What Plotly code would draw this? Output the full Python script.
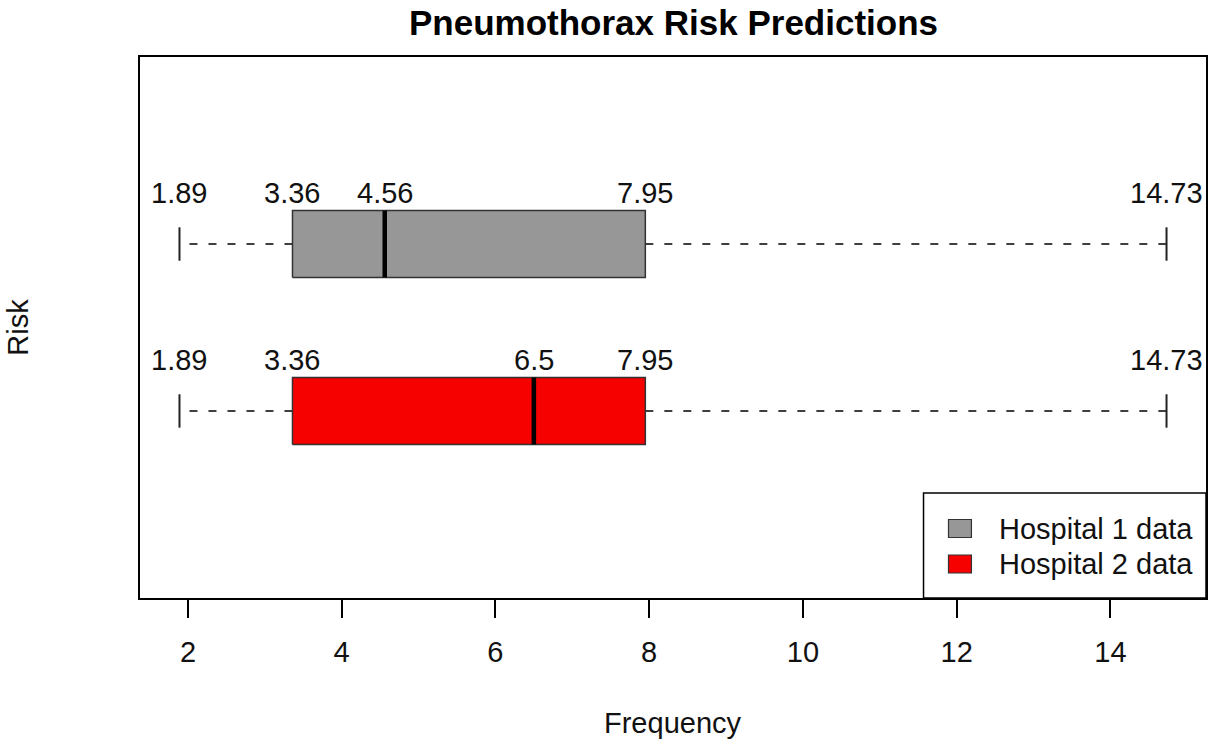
import plotly.graph_objects as go

# ---- data ----
groups = ["Hospital 1 data", "Hospital 2 data"]
mins = [1.89, 1.89]
q1s = [3.36, 3.36]
medians = [4.56, 6.5]
q3s = [7.95, 7.95]
maxs = [14.73, 14.73]
fill_colors = ["#979797", "#F60000"]
x_ticks = [2, 4, 6, 8, 10, 12, 14]

FONT = "Liberation Sans, Arial, Helvetica, sans-serif"
W, H = 1212, 744
ML, MR, MT, MB = 140, 4, 57, 146
PW, PH = W - ML - MR, H - MT - MB

def px_x(p):
    return (p - ML) / PW

def px_y(p):
    return (H - MB - p) / PH

half = 0.2     # half box height (data units)
cap = 0.1      # half staple height

fig = go.Figure()
annotations = []
n = len(groups)
for i, g in enumerate(groups):
    pos = n - i
    # whiskers (dashed) from box edge to extremes
    for a, b in ((q1s[i], mins[i]), (q3s[i], maxs[i])):
        fig.add_trace(go.Scatter(x=[a, b], y=[pos, pos], mode="lines",
                                 line=dict(color="black", width=1.4, dash="8px,11px"),
                                 showlegend=False, hoverinfo="skip"))
    # staples
    for v in (mins[i], maxs[i]):
        fig.add_trace(go.Scatter(x=[v, v], y=[pos - cap, pos + cap], mode="lines",
                                 line=dict(color="#222", width=2),
                                 showlegend=False, hoverinfo="skip"))
    # box
    fig.add_trace(go.Scatter(x=[q1s[i], q3s[i], q3s[i], q1s[i], q1s[i]],
                             y=[pos - half, pos - half, pos + half, pos + half, pos - half],
                             mode="lines", fill="toself", fillcolor=fill_colors[i],
                             line=dict(color="#333", width=1.5),
                             name=g, showlegend=False, hoverinfo="skip"))
    # median
    fig.add_trace(go.Scatter(x=[medians[i], medians[i]], y=[pos - half, pos + half], mode="lines",
                             line=dict(color="black", width=4.5),
                             showlegend=False, hoverinfo="skip"))
    # value labels
    for v in (mins[i], q1s[i], medians[i], q3s[i], maxs[i]):
        annotations.append(dict(x=v, y=pos + half, xref="x", yref="y", text=str(v),
                                showarrow=False, xanchor="center", yanchor="bottom",
                                yshift=0, font=dict(family=FONT, size=29, color="#111")))

# title
annotations.append(dict(x=0.5, y=px_y(22), xref="paper", yref="paper",
                        text="<b>Pneumothorax Risk Predictions</b>", showarrow=False,
                        xanchor="center", yanchor="middle",
                        font=dict(family=FONT, size=35, color="black")))
# x title
annotations.append(dict(x=0.5, y=px_y(723), xref="paper", yref="paper",
                        text="Frequency", showarrow=False, xanchor="center", yanchor="middle",
                        font=dict(family=FONT, size=29, color="#111")))
# y title
annotations.append(dict(x=px_x(17), y=0.5, xref="paper", yref="paper",
                        text="Risk", showarrow=False, textangle=-90,
                        xanchor="center", yanchor="middle",
                        font=dict(family=FONT, size=29, color="#111")))

# legend (manual, R style)
shapes = [dict(type="rect", xref="paper", yref="paper",
               x0=px_x(925), x1=1, y0=0, y1=px_y(493),
               line=dict(color="black", width=1.5), fillcolor="white", layer="above")]
sw_tops = [519.5, 555]
for i, g in enumerate(groups):
    shapes.append(dict(type="rect", xref="paper", yref="paper",
                       x0=px_x(950), x1=px_x(973), y0=px_y(sw_tops[i] + 18), y1=px_y(sw_tops[i]),
                       line=dict(color="#333", width=1.2), fillcolor=fill_colors[i], layer="above"))
    annotations.append(dict(x=px_x(999), y=px_y(sw_tops[i] + 9), xref="paper", yref="paper",
                            text=g, showarrow=False, xanchor="left", yanchor="middle",
                            font=dict(family=FONT, size=29, color="#111")))

fig.update_layout(
    width=W, height=H,
    margin=dict(l=ML, r=MR, t=MT, b=MB, pad=0),
    paper_bgcolor="white", plot_bgcolor="white",
    showlegend=False,
    annotations=annotations, shapes=shapes,
    xaxis=dict(range=[1.3764, 15.2436], tickvals=x_ticks, ticks="outside", ticklen=18,
               tickwidth=1.5, tickcolor="black", showline=True, mirror=True,
               linecolor="black", linewidth=1.5, showgrid=False, zeroline=False,
               ticklabelstandoff=9,
               tickfont=dict(family=FONT, size=29, color="#111")),
    yaxis=dict(range=[-0.12, 3.12], showticklabels=False, ticks="", showline=True,
               mirror=True, linecolor="black", linewidth=1.5, showgrid=False, zeroline=False),
)

fig.write_html("out.html",
               config={"displayModeBar": False},
               post_script="document.body.style.margin='0px';document.body.style.overflow='hidden';")
